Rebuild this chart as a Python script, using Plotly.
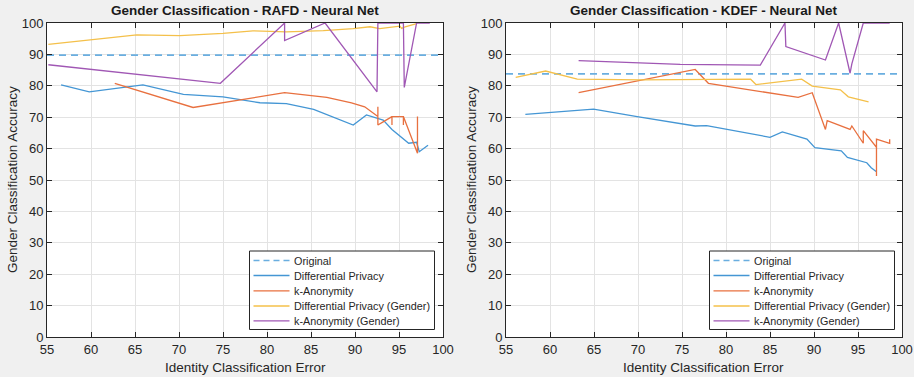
import plotly.graph_objects as go

# ---------------- data ----------------
x_ticks = [55, 60, 65, 70, 75, 80, 85, 90, 95, 100]
y_ticks = [0, 10, 20, 30, 40, 50, 60, 70, 80, 90, 100]

series_names = ["Original", "Differential Privacy", "k-Anonymity",
                "Differential Privacy (Gender)", "k-Anonymity (Gender)"]

# RAFD
rafd_original = 89.8
rafd_dp_x = [56.6, 59.8, 65.9, 70.5, 75.0, 79.2, 82.2, 85.3, 89.8, 91.3, 93.2, 94.2, 96.1, 97.0, 97.3, 98.3]
rafd_dp_y = [80.3, 78.1, 80.3, 77.3, 76.5, 74.6, 74.3, 72.5, 67.5, 70.7, 69.1, 66.1, 61.7, 62.0, 59.0, 61.1]
rafd_ka_x = [62.7, 71.6, 82.0, 86.8, 89.6, 91.1, 92.6, 92.6, 92.6, 93.2, 94.2, 94.2, 94.2, 95.5, 95.5, 95.5, 97.1, 97.1]
rafd_ka_y = [80.8, 73.1, 77.8, 76.3, 74.6, 73.3, 70.2, 73.3, 67.5, 68.5, 70.2, 67.5, 70.2, 70.2, 67.5, 70.2, 58.5, 70.2]
rafd_dpg_x = [55.15, 60.1, 65.2, 70.1, 75.0, 78.4, 82.2, 86.4, 89.8, 91.7, 92.8, 95.1, 95.3, 95.7, 97.0]
rafd_dpg_y = [93.2, 94.6, 96.2, 96.0, 96.7, 97.5, 97.2, 97.6, 98.2, 98.8, 98.2, 99.0, 98.3, 98.8, 99.8]
rafd_kag_x = [55.15, 74.7, 82.0, 82.0, 86.6, 92.5, 92.6, 95.5, 95.6, 97.0, 98.5]
rafd_kag_y = [86.7, 80.8, 100, 94.4, 100, 78.1, 100, 100, 79.5, 100, 100]

# KDEF
kdef_original = 83.8
kdef_dp_x = [57.2, 64.95, 69.9, 76.5, 77.8, 85.0, 86.4, 89.2, 90.1, 93.1, 93.8, 96.0, 96.5, 97.1]
kdef_dp_y = [70.9, 72.6, 70.2, 67.2, 67.3, 63.6, 65.3, 63.0, 60.3, 59.3, 57.2, 55.5, 53.9, 52.6]
kdef_ka_x = [63.25, 76.5, 78.0, 88.2, 89.8, 91.3, 91.5, 94.1, 94.3, 95.6, 95.6, 97.1, 97.1, 97.1, 98.6, 98.6]
kdef_ka_y = [77.8, 85.2, 80.8, 76.3, 77.8, 66.1, 68.9, 66.1, 67.2, 61.7, 65.7, 60.4, 51.3, 63.0, 61.7, 63.0]
kdef_dpg_x = [56.1, 59.5, 63.1, 70.3, 82.8, 83.4, 88.6, 89.8, 93.0, 93.9, 96.2]
kdef_dpg_y = [82.7, 84.7, 82.1, 81.9, 82.1, 80.4, 82.1, 79.9, 78.7, 76.5, 74.9]
kdef_kag_x = [63.25, 74.8, 83.9, 86.7, 86.8, 91.3, 92.8, 94.1, 94.3, 95.6, 98.6]
kdef_kag_y = [88.0, 86.8, 86.6, 100, 92.5, 88.2, 100, 84.0, 87.0, 100, 100]

titles = ["Gender Classification - RAFD - Neural Net",
          "Gender Classification - KDEF - Neural Net"]
x_label = "Identity Classification Error"
y_label = "Gender Classification Accuracy"

# ---------------- style ----------------
C_ORIG = "#6aaee0"
C_DP = "#4496d4"
C_KA = "#e8703f"
C_DPG = "#f4c04a"
C_KAG = "#a057b4"
colors = [C_ORIG, C_DP, C_KA, C_DPG, C_KAG]
dashes = ["7px,5px", "solid", "solid", "solid", "solid"]
FONT = "Liberation Sans, Arial, sans-serif"
TXT = "#262626"

fig = go.Figure()

panels = [
    dict(orig=rafd_original, dp=(rafd_dp_x, rafd_dp_y), ka=(rafd_ka_x, rafd_ka_y),
         dpg=(rafd_dpg_x, rafd_dpg_y), kag=(rafd_kag_x, rafd_kag_y), xa="x", ya="y"),
    dict(orig=kdef_original, dp=(kdef_dp_x, kdef_dp_y), ka=(kdef_ka_x, kdef_ka_y),
         dpg=(kdef_dpg_x, kdef_dpg_y), kag=(kdef_kag_x, kdef_kag_y), xa="x2", ya="y2"),
]

for p in panels:
    common = dict(xaxis=p["xa"], yaxis=p["ya"], mode="lines", hoverinfo="skip", showlegend=False)
    fig.add_trace(go.Scatter(x=[x_ticks[0], x_ticks[-1]], y=[p["orig"], p["orig"]], name=series_names[0],
                             line=dict(color=C_ORIG, width=1.7, dash=dashes[0]), **common))
    fig.add_trace(go.Scatter(x=p["dp"][0], y=p["dp"][1], name=series_names[1],
                             line=dict(color=C_DP, width=1.3), **common))
    fig.add_trace(go.Scatter(x=p["ka"][0], y=p["ka"][1], name=series_names[2],
                             line=dict(color=C_KA, width=1.3), **common))
    fig.add_trace(go.Scatter(x=p["dpg"][0], y=p["dpg"][1], name=series_names[3],
                             line=dict(color=C_DPG, width=1.3), **common))
    fig.add_trace(go.Scatter(x=p["kag"][0], y=p["kag"][1], name=series_names[4],
                             line=dict(color=C_KAG, width=1.3), **common))

W, H = 914, 377
left_dom = [47 / W, 443 / W]
right_dom = [506 / W, 902 / W]
y_dom = [1 - 337 / H, 1 - 23 / H]

ax_common = dict(showline=True, linecolor="#262626", linewidth=1, mirror="allticks",
                 ticks="inside", ticklen=5, tickcolor="#262626", automargin=False,
                 showgrid=True, gridcolor="#e3e3e3", gridwidth=1, zeroline=False,
                 tickfont=dict(family=FONT, size=13, color=TXT))

fig.update_layout(
    width=W, height=H,
    margin=dict(l=0, r=0, t=0, b=0, autoexpand=False),
    paper_bgcolor="#f0f0f0", plot_bgcolor="white",
    font=dict(family=FONT, color=TXT),
    xaxis=dict(domain=left_dom, anchor="y", range=[55, 100], tickvals=x_ticks, **ax_common),
    yaxis=dict(domain=y_dom, anchor="x", range=[0, 100], tickvals=y_ticks, **ax_common),
    xaxis2=dict(domain=right_dom, anchor="y2", range=[55, 100], tickvals=x_ticks, **ax_common),
    yaxis2=dict(domain=y_dom, anchor="x2", range=[0, 100], tickvals=y_ticks, **ax_common),
    showlegend=False,
)

# ---- MATLAB-style legends (box, line samples, labels) in pixel-derived paper coords ----
def px(xp):
    return xp / W

def py(yp):
    return 1 - yp / H

shapes = []
ann = []
legend_boxes = [(249.5, 434.5), (709.5, 894.5)]
item_y = [260.5, 275.5, 290.8, 306, 320.8]
for (bx0, bx1) in legend_boxes:
    shapes.append(dict(type="rect", xref="paper", yref="paper",
                       x0=px(bx0), x1=px(bx1), y0=py(329.5), y1=py(251),
                       fillcolor="white", line=dict(color="#262626", width=1), layer="above"))
    for i, name in enumerate(series_names):
        shapes.append(dict(type="line", xref="paper", yref="paper",
                           x0=px(bx0 + 4), x1=px(bx0 + 40), y0=py(item_y[i]), y1=py(item_y[i]),
                           line=dict(color=colors[i], width=1.7 if i in (0, 3) else 1.3,
                                     dash="6px,4px" if i == 0 else "solid"), layer="above"))
        ann.append(dict(x=px(bx0 + 42), y=py(item_y[i]), xref="paper", yref="paper", text=name,
                        showarrow=False, xanchor="left", yanchor="middle",
                        font=dict(family=FONT, size=10.8, color=TXT)))

for dom, t in zip([left_dom, right_dom], titles):
    cx = (dom[0] + dom[1]) / 2
    ann.append(dict(x=cx, y=py(11), xref="paper", yref="paper", text="<b>" + t + "</b>",
                    showarrow=False, xanchor="center", yanchor="middle",
                    font=dict(family=FONT, size=13.5, color="#1a1a1a")))
    ann.append(dict(x=cx, y=py(367), xref="paper", yref="paper", text=x_label,
                    showarrow=False, xanchor="center", yanchor="middle",
                    font=dict(family=FONT, size=13.5, color=TXT)))
for xp in [12, 471]:
    ann.append(dict(x=px(xp), y=(y_dom[0] + y_dom[1]) / 2, xref="paper", yref="paper", text=y_label,
                    textangle=-90, showarrow=False, xanchor="center", yanchor="middle",
                    font=dict(family=FONT, size=13.5, color=TXT)))
fig.update_layout(annotations=ann, shapes=shapes)

fig.write_html("out.html", config={"displayModeBar": False},
               post_script="document.body.style.margin='0';document.body.style.background='#f0f0f0';")
